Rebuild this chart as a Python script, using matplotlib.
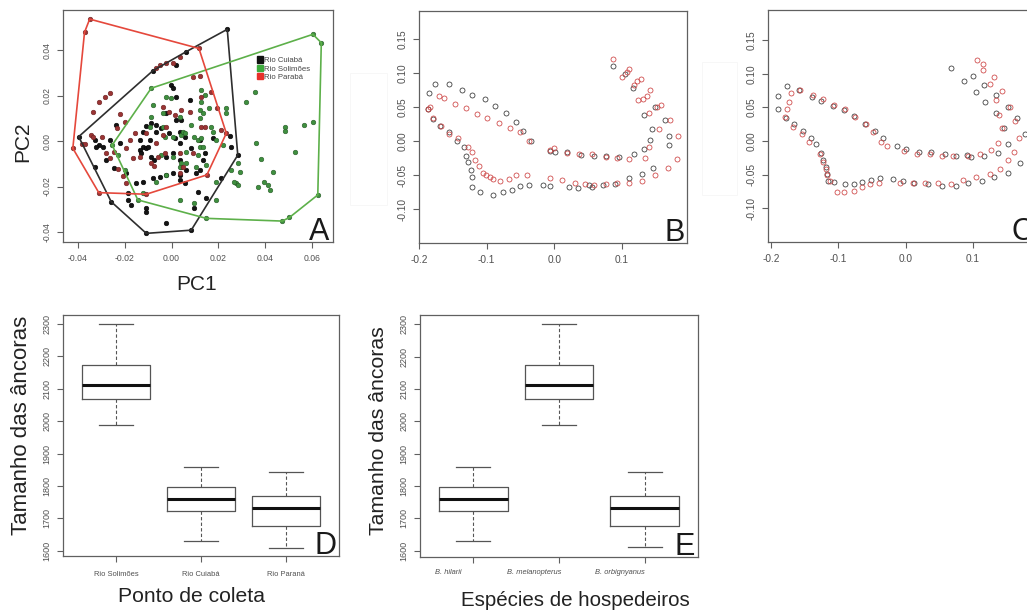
import matplotlib
matplotlib.use("Agg")
import matplotlib.pyplot as plt
from matplotlib.patches import Patch, Rectangle
import numpy as np

plt.rcParams['font.family'] = ['Liberation Sans', 'DejaVu Sans']

# ---- data -------------------------------------------------------------
# PCA scores (PC1, PC2) per collection site
cuiaba = [(-0.0397, 0.0019), (0.0238, 0.0491), (0.0283, -0.0062), (0.0212, -0.0164), (0.0084, -0.0392),
          (-0.0108, -0.0406), (-0.0258, -0.0267), (0.0063, 0.0393), (-0.0080, 0.0309), (0.0020, 0.0334),
          (-0.0001, 0.0246), (0.0006, 0.0232), (0.0020, 0.0195), (-0.0023, 0.0122), (0.0020, 0.0092),
          (0.0041, 0.0092), (-0.0066, 0.0070), (-0.0087, 0.0078), (-0.0108, 0.0066), (-0.0123, 0.0041),
          (-0.0137, 0.0004), (-0.0123, -0.0025), (-0.0137, -0.0040), (-0.0130, -0.0054), (-0.0108, -0.0032),
          (-0.0094, 0.0004), (-0.0101, -0.0025), (-0.0087, -0.0069), (-0.0073, -0.0084), (-0.0066, 0.0041),
          (-0.0044, 0.0056), (-0.0009, 0.0034), (0.0013, 0.0012), (0.0034, 0.0041), (0.0034, -0.0010),
          (0.0056, 0.0019), (0.0006, -0.0054), (-0.0023, -0.0069), (0.0034, -0.0084), (0.0041, -0.0113),
          (0.0034, -0.0149), (0.0006, -0.0142), (0.0034, -0.0171), (0.0056, -0.0186), (-0.0023, -0.0149),
          (-0.0051, -0.0157), (-0.0080, -0.0164), (-0.0123, -0.0179), (-0.0151, -0.0186), (-0.0194, -0.0142),
          (-0.0187, -0.0230), (-0.0244, -0.0120), (-0.0222, -0.0010), (-0.0236, 0.0070), (-0.0265, 0.0004),
          (-0.0293, -0.0025), (-0.0308, -0.0018), (-0.0322, -0.0025), (-0.0329, -0.0113), (-0.0329, 0.0004),
          (-0.0279, -0.0084), (-0.0187, -0.0259), (-0.0172, -0.0281), (-0.0108, -0.0296), (-0.0108, -0.0311),
          (-0.0023, -0.0362), (0.0098, -0.0296), (0.0113, -0.0223), (0.0148, -0.0252), (0.0134, -0.0084),
          (0.0141, -0.0054), (0.0084, -0.0032), (0.0177, 0.0012), (0.0120, 0.0004), (0.0248, 0.0023),
          (0.0255, -0.0025), (0.0077, 0.0180), (0.0120, -0.0127), (0.0063, -0.0127), (0.0105, -0.0142)]

solimoes = [(-0.0087, 0.0232), (0.0604, 0.0469), (0.0640, 0.0432), (0.0604, 0.0085), (0.0625, -0.0237),
            (0.0504, -0.0336), (0.0473, -0.0352), (0.0148, -0.0340), (-0.0144, -0.0259), (-0.0254, -0.0018),
            (-0.0023, 0.0195), (-0.0001, 0.0188), (-0.0080, 0.0158), (-0.0087, 0.0107), (-0.0094, 0.0063),
            (-0.0037, 0.0063), (-0.0030, 0.0019), (0.0006, 0.0019), (0.0041, 0.0026), (0.0048, 0.0041),
            (0.0056, 0.0034), (0.0034, 0.0107), (0.0084, 0.0070), (0.0120, 0.0136), (0.0134, 0.0122),
            (0.0120, 0.0100), (0.0127, 0.0173), (0.0127, 0.0224), (0.0141, 0.0202), (0.0162, 0.0144),
            (0.0170, 0.0063), (0.0177, 0.0041), (0.0191, 0.0004), (0.0234, 0.0122), (0.0234, 0.0144),
            (0.0219, -0.0018), (0.0098, 0.0019), (0.0113, 0.0004), (0.0127, 0.0012), (0.0120, -0.0025),
            (0.0113, -0.0062), (0.0105, -0.0113), (0.0063, -0.0098), (0.0041, -0.0098), (0.0034, -0.0113),
            (0.0006, -0.0069), (-0.0044, -0.0062), (-0.0023, -0.0149), (-0.0066, -0.0179), (-0.0123, -0.0230),
            (0.0034, -0.0259), (0.0098, -0.0274), (0.0191, -0.0259), (-0.0201, -0.0127), (-0.0229, -0.0062),
            (0.0355, 0.0217), (0.0319, 0.0173), (0.0362, -0.0010), (0.0383, -0.0079), (0.0369, -0.0201),
            (0.0397, -0.0179), (0.0412, -0.0193), (0.0419, -0.0215), (0.0433, -0.0135), (0.0483, 0.0063),
            (0.0483, 0.0045), (0.0526, -0.0047), (0.0568, 0.0070), (0.0283, -0.0098), (0.0291, -0.0135),
            (0.0276, -0.0186), (0.0283, -0.0193), (0.0255, -0.0127), (0.0191, -0.0179), (0.0269, -0.0179),
            (0.0148, -0.0105), (0.0134, -0.0025), (0.0063, -0.0047), (-0.0037, 0.0122)]

parana = [(-0.0372, 0.0478), (-0.0350, 0.0536), (0.0117, 0.0407), (0.0234, 0.0034), (0.0151, -0.0149),
          (-0.0108, -0.0234), (-0.0311, -0.0227), (-0.0422, -0.0032), (-0.0265, 0.0210), (-0.0286, 0.0195),
          (-0.0308, 0.0173), (-0.0336, 0.0129), (-0.0343, 0.0026), (-0.0382, -0.0013), (-0.0368, -0.0015),
          (-0.0336, 0.0019), (-0.0222, 0.0117), (-0.0201, 0.0085), (-0.0234, 0.0056), (-0.0296, 0.0019),
          (-0.0279, -0.0054), (-0.0244, -0.0047), (-0.0265, -0.0076), (-0.0229, -0.0123), (-0.0208, -0.0154),
          (-0.0194, -0.0183), (-0.0165, -0.0076), (-0.0158, 0.0034), (-0.0179, 0.0004), (-0.0137, -0.0069),
          (-0.0087, -0.0098), (-0.0077, -0.0108), (-0.0066, -0.0010), (-0.0037, 0.0151), (-0.0037, 0.0026),
          (-0.0023, 0.0063), (-0.0009, 0.0129), (0.0013, 0.0114), (0.0041, 0.0136), (0.0048, -0.0113),
          (0.0077, 0.0129), (0.0091, 0.0283), (0.0120, 0.0286), (0.0127, 0.0195), (0.0127, 0.0063),
          (0.0091, -0.0054), (0.0141, 0.0063), (0.0194, 0.0144), (0.0212, 0.0048), (-0.0066, 0.0319),
          (-0.0051, 0.0334), (-0.0023, 0.0344), (0.0006, 0.0341), (0.0034, 0.0371), (-0.0108, 0.0037),
          (-0.0058, -0.0069), (0.0034, -0.0142), (-0.0194, -0.0032), (-0.0027, -0.0054), (0.0034, -0.0054),
          (0.0170, 0.0217)]

# landmark configurations, panel B
b_black = [(-0.185, 0.071), (-0.176, 0.084), (-0.155, 0.084), (-0.136, 0.076), (-0.121, 0.068), (-0.103, 0.062),
           (-0.087, 0.052), (-0.071, 0.042), (-0.057, 0.028), (-0.046, 0.015), (-0.034, 0.000), (-0.186, 0.047),
           (-0.180, 0.033), (-0.169, 0.023), (-0.156, 0.013), (-0.144, 0.000), (-0.134, -0.009), (-0.131, -0.021),
           (-0.127, -0.031), (-0.123, -0.042), (-0.122, -0.053), (-0.121, -0.067), (-0.110, -0.075), (-0.091, -0.079),
           (-0.076, -0.075), (-0.063, -0.071), (-0.051, -0.066), (-0.038, -0.065), (-0.017, -0.065), (-0.006, -0.066),
           (0.021, -0.067), (0.035, -0.068), (0.051, -0.065), (0.056, -0.067), (0.072, -0.065), (0.090, -0.063),
           (0.111, -0.054), (0.130, -0.048), (0.146, -0.040), (0.169, -0.006), (0.169, 0.008), (0.142, 0.002),
           (0.133, -0.012), (0.117, -0.019), (0.096, -0.023), (0.076, -0.022), (0.058, -0.022), (0.039, -0.020),
           (0.019, -0.016), (-0.007, -0.014), (0.001, -0.016), (0.087, 0.110), (0.104, 0.099), (0.133, 0.038),
           (0.149, 0.050), (0.164, 0.031), (0.145, 0.018), (0.116, 0.079)]
b_red = [(-0.184, 0.051), (-0.170, 0.067), (-0.163, 0.064), (-0.147, 0.055), (-0.131, 0.049), (-0.115, 0.040),
         (-0.099, 0.034), (-0.082, 0.027), (-0.065, 0.020), (-0.051, 0.013), (-0.037, 0.000), (-0.187, 0.048),
         (-0.179, 0.034), (-0.168, 0.023), (-0.156, 0.011), (-0.142, 0.005), (-0.128, -0.008), (-0.122, -0.016),
         (-0.117, -0.027), (-0.112, -0.036), (-0.106, -0.046), (-0.101, -0.050), (-0.095, -0.053), (-0.090, -0.056),
         (-0.080, -0.058), (-0.067, -0.055), (-0.057, -0.049), (-0.041, -0.049), (-0.007, -0.054), (0.012, -0.057),
         (0.031, -0.061), (0.046, -0.063), (0.059, -0.065), (0.077, -0.063), (0.092, -0.061), (0.110, -0.061),
         (0.129, -0.058), (0.149, -0.050), (0.168, -0.040), (0.181, -0.026), (0.182, 0.008), (0.171, 0.032),
         (0.158, 0.053), (0.151, 0.050), (0.154, 0.018), (0.140, 0.041), (0.137, 0.067), (0.141, 0.075),
         (0.131, 0.062), (0.123, 0.061), (0.128, 0.091), (0.122, 0.088), (0.117, 0.083), (0.111, 0.107),
         (0.108, 0.102), (0.100, 0.095), (0.086, 0.121), (0.134, -0.024), (0.140, -0.009), (0.111, -0.026),
         (0.092, -0.025), (0.077, -0.023), (0.056, -0.019), (0.037, -0.018), (0.019, -0.017), (-0.001, -0.010),
         (-0.007, -0.013)]

# landmark configurations, panel C
c_black = [(-0.190, 0.067), (-0.190, 0.047), (-0.176, 0.082), (-0.158, 0.076), (-0.139, 0.066), (-0.126, 0.060),
           (-0.108, 0.052), (-0.092, 0.046), (-0.076, 0.037), (-0.060, 0.026), (-0.046, 0.015), (-0.033, 0.004),
           (-0.012, -0.008), (0.001, -0.012), (0.020, -0.016), (0.038, -0.016), (0.059, -0.019), (0.075, -0.022),
           (0.091, -0.021), (0.098, -0.024), (0.116, -0.022), (0.137, -0.018), (0.152, -0.004), (0.170, -0.033),
           (0.177, 0.011), (0.166, 0.034), (0.146, 0.020), (0.134, 0.041), (0.135, 0.068), (0.152, 0.051),
           (0.118, 0.058), (0.105, 0.073), (0.116, 0.083), (0.087, 0.089), (0.100, 0.096), (0.068, 0.108),
           (0.152, -0.047), (0.132, -0.054), (0.113, -0.059), (0.093, -0.063), (0.075, -0.067), (0.054, -0.067),
           (0.033, -0.064), (0.012, -0.062), (-0.004, -0.059), (-0.019, -0.056), (-0.038, -0.055), (-0.052, -0.058),
           (-0.065, -0.061), (-0.077, -0.064), (-0.090, -0.064), (-0.106, -0.061), (-0.115, -0.060), (-0.117, -0.049),
           (-0.118, -0.039), (-0.122, -0.028), (-0.126, -0.018), (-0.133, -0.004), (-0.141, 0.005), (-0.153, 0.015),
           (-0.166, 0.025), (-0.178, 0.034)]
c_red = [(-0.176, 0.048), (-0.174, 0.058), (-0.170, 0.072), (-0.157, 0.076), (-0.138, 0.068), (-0.123, 0.062),
         (-0.106, 0.054), (-0.090, 0.048), (-0.075, 0.036), (-0.059, 0.025), (-0.048, 0.013), (-0.037, -0.002),
         (-0.028, -0.007), (-0.002, -0.015), (0.017, -0.019), (0.036, -0.019), (0.054, -0.022), (0.071, -0.022),
         (0.093, -0.022), (0.110, -0.020), (0.127, -0.013), (0.137, -0.003), (0.161, -0.017), (0.153, -0.028),
         (0.141, -0.041), (0.168, 0.005), (0.163, 0.030), (0.143, 0.019), (0.139, 0.039), (0.134, 0.061),
         (0.144, 0.075), (0.132, 0.095), (0.125, 0.084), (0.115, 0.105), (0.115, 0.115), (0.107, 0.121),
         (0.156, 0.051), (0.125, -0.049), (0.105, -0.054), (0.086, -0.058), (0.068, -0.064), (0.049, -0.063),
         (0.029, -0.062), (0.011, -0.062), (-0.008, -0.062), (-0.039, -0.062), (-0.053, -0.064), (-0.065, -0.069),
         (-0.077, -0.074), (-0.092, -0.076), (-0.102, -0.075), (-0.113, -0.060), (-0.117, -0.051), (-0.118, -0.042),
         (-0.123, -0.031), (-0.127, -0.019), (-0.144, -0.001), (-0.154, 0.010), (-0.167, 0.021), (-0.179, 0.035)]

# anchor size summaries per site: (whislo, q1, median, q3, whishi)
sites = ['Rio Solimões', 'Rio Cuiabá', 'Rio Paraná']
site_stats = {'Rio Solimões': (1988, 2070, 2111, 2173, 2300),
              'Rio Cuiabá': (1630, 1722, 1760, 1797, 1859),
              'Rio Paraná': (1610, 1676, 1733, 1769, 1844)}
hosts = ['B. hilarii', 'B. melanopterus', 'B. orbignyanus']
host_site = {'B. hilarii': 'Rio Cuiabá', 'B. melanopterus': 'Rio Solimões', 'B. orbignyanus': 'Rio Paraná'}

# ---- layout helpers ---------------------------------------------------
W, H = 1027, 612
fig = plt.figure(figsize=(W / 100, H / 100), dpi=100)


def rect(l, t, r, b):
    return [l / W, 1 - b / H, (r - l) / W, (b - t) / H]


def ftext(x, y, s, **kw):
    fig.text(x / W, 1 - y / H, s, **kw)


def style(ax, size):
    for s in ax.spines.values():
        s.set_color('#606060')
        s.set_linewidth(0.9)
    ax.tick_params(direction='out', length=4.5, width=0.8, color='#606060',
                   labelcolor='#505050', labelsize=size, pad=4)
    for lab in ax.get_yticklabels():
        lab.set_rotation(90)
        lab.set_va('center')


def hull(pts):
    p = sorted(set(pts))
    def cross(o, a, b):
        return (a[0] - o[0]) * (b[1] - o[1]) - (a[1] - o[1]) * (b[0] - o[0])
    lower, upper = [], []
    for q in p:
        while len(lower) >= 2 and cross(lower[-2], lower[-1], q) <= 0:
            lower.pop()
        lower.append(q)
    for q in reversed(p):
        while len(upper) >= 2 and cross(upper[-2], upper[-1], q) <= 0:
            upper.pop()
        upper.append(q)
    h = lower[:-1] + upper[:-1]
    return np.array(h + [h[0]])


# ---- A: PCA scatter ---------------------------------------------------
axA = fig.add_axes(rect(63, 10, 333, 242))
groups = [('Rio Cuiabá', cuiaba, '#141414', '#000000', '#2e2e2e'),
          ('Rio Solimões', solimoes, '#3f8f3f', '#265a26', '#5db04a'),
          ('Rio Parabá', parana, '#9a3434', '#6a2020', '#e5483c')]
for name, pts, fc, ec, lc in groups:
    a = np.array(pts)
    axA.scatter(a[:, 0], a[:, 1], s=11, c=fc, edgecolors=ec, linewidths=0.4, zorder=2)
for name, pts, fc, ec, lc in groups:
    h = hull(pts)
    axA.plot(h[:, 0], h[:, 1], color=lc, lw=1.2, zorder=3)
axA.set_xlim(-0.0464, 0.069)
axA.set_ylim(-0.0444, 0.0576)
axA.set_xticks([-0.04, -0.02, 0.0, 0.02, 0.04, 0.06])
axA.set_xticklabels(['-0.04', '-0.02', '0.00', '0.02', '0.04', '0.06'])
axA.set_yticks([-0.04, -0.02, 0.0, 0.02, 0.04])
axA.set_yticklabels(['-0.04', '-0.02', '0.00', '0.02', '0.04'])
style(axA, 6.2)
leg_cols = ['#111111', '#3cab3c', '#e8302a']
axA.legend(handles=[Patch(color=c, label=g[0]) for c, g in zip(leg_cols, groups)],
           loc='upper left', bbox_to_anchor=(0.72, 0.80), frameon=False, fontsize=5.6,
           handlelength=0.7, handleheight=0.9, handletextpad=0.2, labelspacing=0.05,
           borderpad=0, borderaxespad=0, labelcolor='#444444')
axA.text(0.985, 0.01, 'A', transform=axA.transAxes, ha='right', va='baseline', fontsize=22, color='#1a1a1a')
ftext(197, 285, 'PC1', ha='center', va='center', fontsize=15, color='#222222')
ftext(23, 142, 'PC2', ha='center', va='center', rotation=90, fontsize=15, color='#222222')


# ---- B, C: landmark configurations -----------------------------------
def shape_panel(r, black, red, xlim, ylim, letter):
    ax = fig.add_axes(r)
    for pts, col in [(black, '#333333'), (red, '#cc4040')]:
        a = np.array(pts)
        ax.plot(a[:, 0], a[:, 1], 'o', mfc='none', mec=col, ms=3.6, mew=0.55)
    ax.set_xlim(*xlim)
    ax.set_ylim(*ylim)
    ax.set_xticks([-0.2, -0.1, 0.0, 0.1])
    ax.set_xticklabels(['-0.2', '-0.1', '0.0', '0.1'])
    ax.set_yticks([-0.10, -0.05, 0.0, 0.05, 0.10, 0.15])
    ax.set_yticklabels(['-0.10', '-0.05', '0.00', '0.05', '0.10', '0.15'])
    style(ax, 7.3)
    ax.text(0.99, 0.01, letter, transform=ax.transAxes, ha='right', va='baseline',
            fontsize=22, color='#1a1a1a')
    return ax


shape_panel(rect(419, 11, 687, 243), b_black, b_red, (-0.2, 0.196), (-0.1496, 0.1916), 'B')
shape_panel(rect(768, 10, 1036, 242), c_black, c_red, (-0.2045, 0.194), (-0.150, 0.1946), 'C')

# faint frame remnants next to B and C
for l, t, r, b in [(350, 73, 387, 205), (702, 62, 737, 195)]:
    fig.add_artist(Rectangle((l / W, 1 - b / H), (r - l) / W, (b - t) / H, transform=fig.transFigure,
                             fill=False, ec='#f7f7f7', lw=0.7))


# ---- D, E: boxplots ---------------------------------------------------
def box_panel(r, names, ylim, letter):
    ax = fig.add_axes(r)
    stats = []
    for n in names:
        lo, q1, med, q3, hi = site_stats[host_site.get(n, n)]
        stats.append(dict(whislo=lo, q1=q1, med=med, q3=q3, whishi=hi, fliers=[]))
    ax.bxp(stats, positions=[1, 2, 3], widths=0.8, capwidths=0.4, showfliers=False,
           boxprops=dict(color='#555555', lw=0.9),
           medianprops=dict(color='#111111', lw=2.2),
           whiskerprops=dict(color='#555555', lw=0.8, ls=(0, (3, 2))),
           capprops=dict(color='#555555', lw=0.9))
    ax.set_xlim(0.38, 3.62)
    ax.set_ylim(*ylim)
    ax.set_yticks(range(1600, 2301, 100))
    ax.set_yticklabels([str(v) for v in range(1600, 2301, 100)])
    style(ax, 6.5)
    ax.text(0.99, 0.01, letter, transform=ax.transAxes, ha='right', va='baseline',
            fontsize=22, color='#1a1a1a')
    return ax


axD = box_panel(rect(63, 315, 339, 556), sites, (1584, 2328), 'D')
axD.set_xticks([1, 2, 3])
axD.set_xticklabels(sites, fontsize=5.4)
axD.tick_params(axis='x', pad=6)

axE = box_panel(rect(420, 315, 698, 557), hosts, (1580, 2329), 'E')
axE.set_xticks([1, 2, 3])
axE.set_xticklabels([])
for i, n in enumerate(hosts):
    axE.text(i + 1 - 0.29, -0.066, n, transform=axE.get_xaxis_transform(), ha='center', va='center',
             fontsize=5.4, style='italic', color='#505050')

ftext(22, 425, 'Tamanho das âncoras', ha='center', va='center', rotation=90, fontsize=16, color='#222222')
ftext(378, 431, 'Tamanho das âncoras', ha='center', va='center', rotation=90, fontsize=15.3, color='#222222')
ftext(191, 596, 'Ponto de coleta', ha='center', va='center', fontsize=15.2, color='#222222')
ftext(575, 601, 'Espécies de hospedeiros', ha='center', va='center', fontsize=14.8, color='#222222')

fig.savefig('out.png', dpi=100)
